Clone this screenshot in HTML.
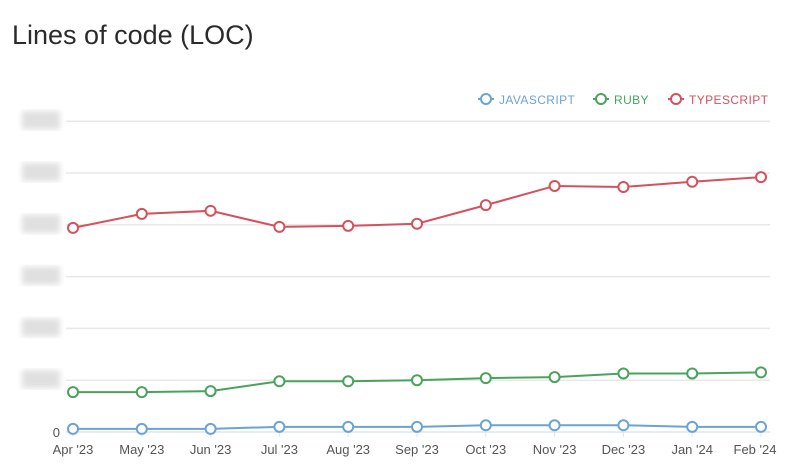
<!DOCTYPE html>
<html><head><meta charset="utf-8"><style>
body{margin:0;background:#fff;font-family:"Liberation Sans",sans-serif;}
#wrap{position:relative;width:800px;height:474px;overflow:hidden}
h1{position:absolute;left:12px;top:20px;margin:0;font-weight:400;font-size:27px;color:#2b2b2b}
</style></head><body>
<div id="wrap">
<h1>Lines of code (LOC)</h1>
<svg id="chart" width="800" height="474" style="position:absolute;left:0;top:0">
<defs><filter id="bl"><feGaussianBlur stdDeviation="3"/></filter></defs>
</svg>
</div>
<script>
const categories=["Apr '23","May '23","Jun '23","Jul '23","Aug '23","Sep '23","Oct '23","Nov '23","Dec '23","Jan '24","Feb '24"];
const typescriptValues=[3.94,4.21,4.27,3.96,3.98,4.02,4.38,4.75,4.73,4.83,4.92];
const rubyValues=[0.77,0.77,0.79,0.98,0.98,1.0,1.04,1.06,1.13,1.13,1.15];
const javascriptValues=[0.06,0.06,0.06,0.1,0.1,0.1,0.13,0.13,0.13,0.1,0.1];
const yTicks=[0,1,2,3,4,5,6];
const seriesNames=["JAVASCRIPT","RUBY","TYPESCRIPT"];
const NS="http://www.w3.org/2000/svg";
const svg=document.getElementById('chart');
const x0=73,x1=761,y0=432,unit=51.8;
const xs=i=>x0+(x1-x0)*i/(categories.length-1);
const ys=v=>y0-v*unit;
function mk(t,a){const e=document.createElementNS(NS,t);for(const k in a)e.setAttribute(k,a[k]);svg.appendChild(e);return e;}
yTicks.forEach(t=>{
  const g=mk('line',{x1:66,x2:770,y1:ys(t),y2:ys(t),stroke:t===0?'#dde6f0':'#e8e8e8','stroke-width':1.5});
  
  
  if(t===0){const l=mk('text',{x:60,y:ys(t)+5,'text-anchor':'end','font-size':13,fill:'#555'});l.textContent='0';
    
    }
  else{const r=mk('rect',{x:22,y:ys(t)-10,width:38,height:18,fill:'#e0e0e0',filter:'url(#bl)'});
    
    }
});
categories.forEach((c,i)=>{
  const tk=mk('line',{x1:xs(i),x2:xs(i),y1:y0,y2:y0+5,stroke:'#dde6f0'});
  
  
  const t=mk('text',{x:i===categories.length-1?xs(i)-6:xs(i),y:454,'text-anchor':'middle','font-size':13,fill:'#555'});
  t.textContent=c;
  
  
});
const series=[[javascriptValues,'#6aa3d5','javascript'],[rubyValues,'#4aa35c','ruby'],[typescriptValues,'#d5515d','typescript']];
series.forEach(([vals,col,nm])=>{
  const p=mk('polyline',{points:vals.map((v,i)=>xs(i)+','+ys(v)).join(' '),fill:'none',stroke:col,'stroke-width':2});
  
  
  vals.forEach((v,i)=>{
    const c=mk('circle',{cx:xs(i),cy:ys(v),r:5,fill:'#fff',stroke:col,'stroke-width':2});
    
    
  });
});
const legX=[486,601,676];
series.forEach(([v,col,nm],i)=>{
  const lx=legX[i];
  const g=document.createElementNS(NS,'g');svg.appendChild(g);
  
  
  const ln=document.createElementNS(NS,'line');
  [['x1',lx-8],['x2',lx+8],['y1',99],['y2',99],['stroke',col],['stroke-width',2]].forEach(a=>ln.setAttribute(a[0],a[1]));g.appendChild(ln);
  const c=document.createElementNS(NS,'circle');
  [['cx',lx],['cy',99],['r',5],['fill','#fff'],['stroke',col],['stroke-width',2]].forEach(a=>c.setAttribute(a[0],a[1]));g.appendChild(c);
  const t=document.createElementNS(NS,'text');
  [['x',lx+13],['y',104],['font-size',12],['fill',col],['letter-spacing',0.4]].forEach(a=>t.setAttribute(a[0],a[1]));
  t.textContent=seriesNames[i];g.appendChild(t);
});
</script>
</body></html>
